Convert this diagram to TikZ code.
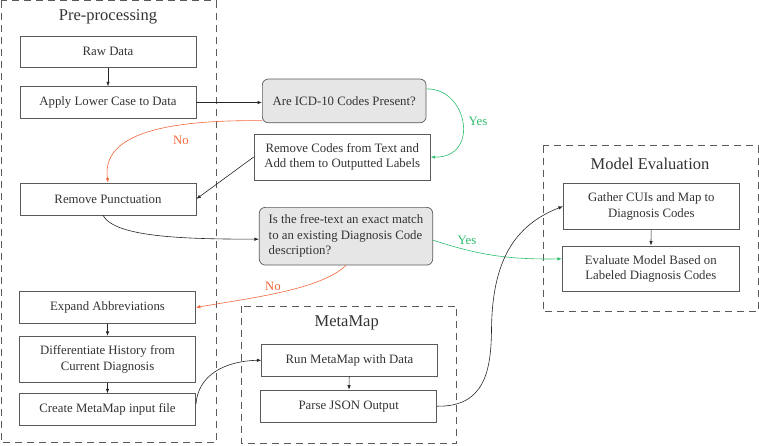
\documentclass[tikz,border=0pt]{standalone}
\usepackage{fontspec}
\setmainfont{Liberation Serif}
\usetikzlibrary{arrows.meta}
\definecolor{boxline}{HTML}{5A5A5A}
\definecolor{txt}{HTML}{333333}
\definecolor{decfill}{HTML}{E6E6E6}
\definecolor{noorange}{HTML}{F2673A}
\definecolor{yesgreen}{HTML}{2DBE6C}
\tikzset{
  box/.style={draw=boxline, line width=0.7pt, inner sep=0pt, align=center, text=txt,
    font=\fontsize{12.8}{15.5}\selectfont},
  decision/.style={box, fill=decfill, rounded corners=6pt},
  group/.style={draw=boxline, line width=0.7pt, dash pattern=on 7pt off 5pt},
  grouptitle/.style={text=txt, font=\fontsize{16.5}{19}\selectfont, inner sep=0pt},
  conn/.style={draw=black!85, line width=0.6pt, -{Latex[length=4.5pt,width=3.4pt]}},
  noconn/.style={conn, draw=noorange, -{Latex[length=4.5pt,width=3.4pt,fill=noorange]}},
  yesconn/.style={conn, draw=yesgreen, -{Latex[length=4.5pt,width=3.4pt,fill=yesgreen]}},
  nolabel/.style={text=noorange, font=\fontsize{12.8}{15.5}\selectfont, inner sep=0pt},
  yeslabel/.style={text=yesgreen, font=\fontsize{12.8}{15.5}\selectfont, inner sep=0pt},
}
\begin{document}
\begin{tikzpicture}[x=1pt, y=-1pt]
\useasboundingbox (0,0) rectangle (759,445);

% groups
\draw[group] (1,0.8) rectangle (216,442.7);
\node[grouptitle] (pretitle) at (108,17) {Pre-processing};
\draw[group] (241.7,306) rectangle (456.7,443.5);
\node[grouptitle] (mmtitle) at (346.7,323.3) {MetaMap};
\draw[group] (543.3,145.7) rectangle (758.2,311.7);
\node[grouptitle] (metitle) at (650,164) {Model Evaluation};

% pre-processing boxes
\node[box, minimum width=176pt, minimum height=31.7pt] (raw) at (108,51.8) {Raw Data};
\node[box, minimum width=176pt, minimum height=31.7pt] (lower) at (108,102.5) {Apply Lower Case to Data};
\node[box, minimum width=176pt, minimum height=32pt] (punct) at (108,199) {Remove Punctuation};
\node[box, minimum width=176pt, minimum height=31.7pt] (expand) at (107.5,307.5) {Expand Abbreviations};
\node[box, minimum width=176pt, minimum height=46.4pt] (diff) at (107.5,359.5) {Differentiate History from\\Current Diagnosis};
\node[box, minimum width=176pt, minimum height=32pt] (create) at (107.5,409.7) {Create MetaMap input file};

% middle
\node[decision, minimum width=163.7pt, minimum height=43.7pt] (icd) at (344.2,100.9) {Are ICD-10 Codes Present?};
\node[box, minimum width=176.3pt, minimum height=46pt] (codes) at (342.2,157) {Remove Codes from Text and\\Add them to Outputted Labels};
\node[decision, minimum width=173.4pt, minimum height=57.7pt, align=left] (exact) at (346,236.2) {Is the free-text an exact match\\to an existing Diagnosis Code\\description?};

% metamap
\node[box, minimum width=175.6pt, minimum height=31.7pt] (run) at (349.5,360.2) {Run MetaMap with Data};
\node[box, minimum width=176pt, minimum height=32.3pt] (parse) at (348.7,406.2) {Parse JSON Output};

% model evaluation
\node[box, minimum width=176pt, minimum height=46pt] (gather) at (651.3,206.3) {Gather CUIs and Map to\\Diagnosis Codes};
\node[box, minimum width=177pt, minimum height=45.7pt] (eval) at (650.8,268.8) {Evaluate Model Based on\\Labeled Diagnosis Codes};

% connectors
\draw[conn] (raw) -- (lower);
\draw[conn] (lower.east) -- (lower.east -| icd.west);
\draw[noconn] ([yshift=2.5pt]icd.south west) .. controls (170,120) and (101,132) .. (punct.north);
\node[nolabel] (no1) at (181,140) {No};
\draw[yesconn] ([yshift=12pt]icd.east) .. controls (468,88) and (480,158) .. (codes.east);
\node[yeslabel] (yes1) at (478,121) {Yes};
\draw[conn] (codes.west) -- (punct.east);
\draw[conn] ([xshift=-5pt]punct.south) .. controls (115,238) and (190,239) .. ([yshift=-3pt]exact.west);
\draw[noconn] (exact.south) .. controls (320,290) and (250,298) .. (expand.east);
\node[nolabel] (no2) at (273,286) {No};
\draw[yesconn] ([yshift=-4pt]exact.east) .. controls (470,252) and (500,260) .. ([yshift=10pt]eval.west);
\node[yeslabel] (yes2) at (467,240.5) {Yes};
\draw[conn] (expand) -- (diff);
\draw[conn] (diff) -- (create);
\coordinate (cstart) at (196,404);
\draw[conn] (cstart) .. controls (198,375) and (225,361) .. (run.west);
\draw[conn] (run) -- (parse);
\coordinate (pmid) at (491.5,330);
\draw[conn] (parse.east) .. controls (485,407) and (491,370) .. (pmid) .. controls (492,260) and (515,225) .. (gather.west);
\draw[conn] (gather) -- (eval);
\end{tikzpicture}
\end{document}
